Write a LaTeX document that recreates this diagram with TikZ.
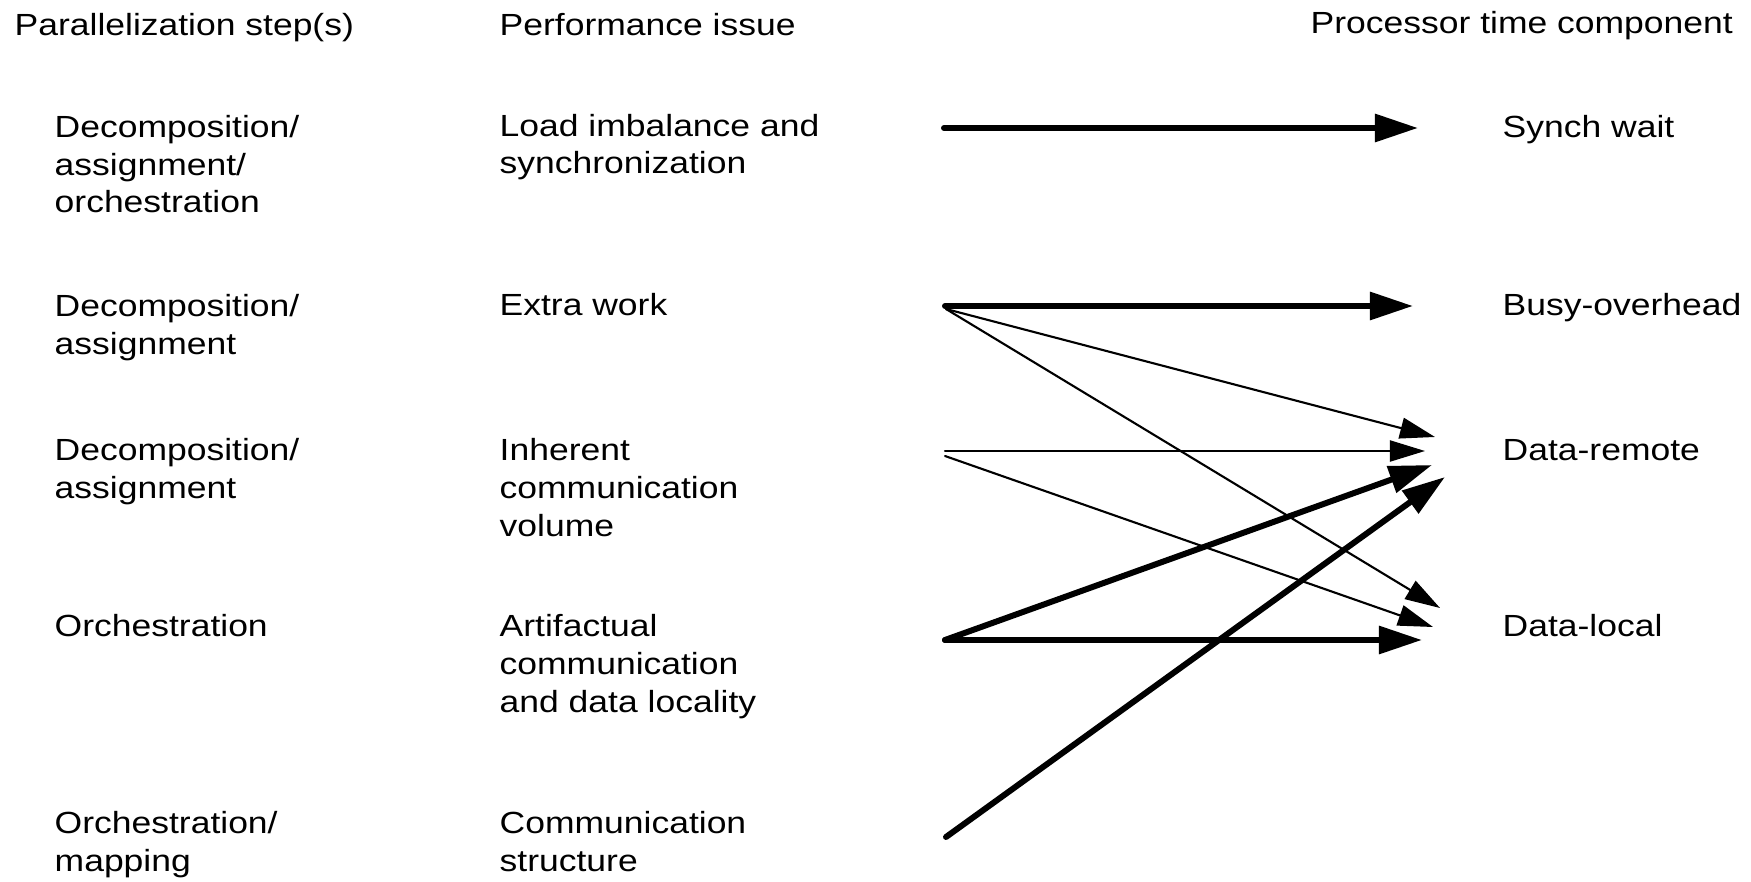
\documentclass[tikz,border=0pt]{standalone}
\usepackage{fontspec}
\setmainfont{Liberation Sans}[FakeStretch=1.16]
\usetikzlibrary{arrows.meta}
\begin{document}
\begin{tikzpicture}[
  x=0.01cm, y=-0.01cm,
  txt/.style={anchor=base west, align=left, inner sep=0pt, font=\fontsize{8.7}{10.8}\selectfont},
  heavy/.style={line width=1.7pt, line cap=round, -{Triangle[length=0.43cm, width=0.27cm]}},
  light/.style={line width=0.6pt, line cap=round, -{Triangle[length=0.35cm, width=0.21cm]}},
]
  \useasboundingbox (0,0) rectangle (1751,882);

  % column headings (base = last line)
  \node[txt] (hstep) at (14,36) {Parallelization step(s)};
  \node[txt] (hissue) at (499,36) {Performance issue};
  \node[txt] (hcomp) at (1310,34) {Processor time component};

  % parallelization steps
  \node[txt] (s1) at (54,213) {Decomposition/\\assignment/\\orchestration};
  \node[txt] (s2) at (54,354) {Decomposition/\\assignment};
  \node[txt] (s3) at (54,498) {Decomposition/\\assignment};
  \node[txt] (s4) at (54,636) {Orchestration};
  \node[txt] (s5) at (54,871) {Orchestration/\\mapping};

  % performance issues
  \node[txt] (i1) at (499,174) {Load imbalance and\\synchronization};
  \node[txt] (i2) at (499,316) {Extra work};
  \node[txt] (i3) at (499,536) {Inherent\\communication\\volume};
  \node[txt] (i4) at (499,712) {Artifactual\\communication\\and data locality};
  \node[txt] (i5) at (499,871) {Communication\\structure};

  % time components
  \node[txt] (synch) at (1502,138) {Synch wait};
  \node[txt] (busy) at (1502,316) {Busy-overhead};
  \node[txt] (remote) at (1502,460) {Data-remote};
  \node[txt] (local) at (1502,636) {Data-local};

  % arrow ends
  \foreach \n/\x/\y in {
    i1o/944/128, i2o/945/306, i2p/946/309, i3o/945/451, i3p/945/456,
    i4o/945/640, i5o/946/837,
    synchA/1418/128, busyA/1413/306,
    remoteA/1435/437, remoteB/1425/451, remoteC/1432/465, remoteD/1445/477,
    localA/1440/608, localB/1433/627, localC/1422/640
  } {
    \coordinate (\n) at (\x,\y);
  }

  \foreach \a/\b in {i1o/synchA, i2o/busyA, i4o/remoteC, i4o/localC, i5o/remoteD} {
    \draw[heavy] (\a) -- (\b);
  }
  \foreach \a/\b in {i2p/remoteA, i2p/localA, i3o/remoteB, i3p/localB} {
    \draw[light] (\a) -- (\b);
  }
\end{tikzpicture}
\end{document}
